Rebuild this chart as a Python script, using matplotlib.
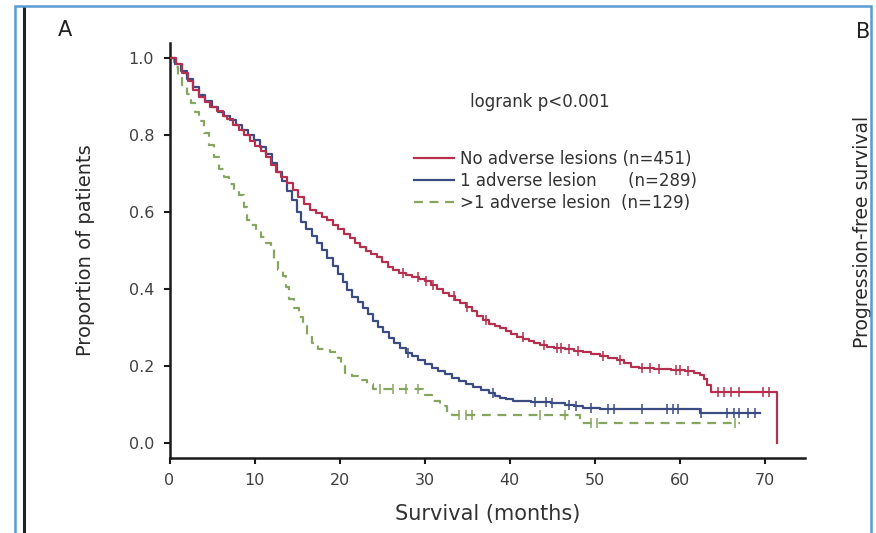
import numpy as np
import matplotlib
matplotlib.use('Agg')
import matplotlib.pyplot as plt
from matplotlib.patches import Rectangle
from matplotlib.lines import Line2D

# Kaplan-Meier step points (months, proportion surviving)
red_t = [0, 0.8, 1.5, 2.2, 2.8, 3.5, 4.2, 4.8, 5.6, 6.3, 6.8, 7.5, 8.2, 8.8, 9.5, 10.1,
         10.7, 11.3, 11.9, 12.5, 13.1, 13.8, 14.5, 15.1, 15.8, 16.5, 17.2, 17.9, 18.5,
         19.2, 19.8, 20.5, 21.2, 21.8, 22.4, 23.1, 23.7, 24.4, 25.0, 25.7, 26.3, 27.0,
         27.8, 28.5, 29.3, 30.0, 30.7, 31.4, 32.2, 32.9, 33.6, 34.2, 34.9, 35.5, 36.2,
         36.9, 37.6, 38.3, 38.9, 39.6, 40.2, 40.9, 41.6, 42.2, 42.8, 43.6, 44.4, 45.2,
         46.5, 47.6, 48.6, 49.6, 50.6, 51.6, 52.6, 53.4, 54.2, 55.2, 57.0, 59.0, 60.6,
         61.6, 62.3, 62.8, 63.2, 63.6, 71.4]
red_s = [1.0, 0.985, 0.962, 0.94, 0.918, 0.9, 0.885, 0.873, 0.862, 0.85, 0.842, 0.826,
         0.812, 0.8, 0.785, 0.772, 0.758, 0.742, 0.722, 0.703, 0.69, 0.675, 0.657, 0.64,
         0.622, 0.605, 0.597, 0.587, 0.579, 0.565, 0.556, 0.543, 0.532, 0.52, 0.509,
         0.498, 0.49, 0.482, 0.47, 0.458, 0.449, 0.442, 0.436, 0.43, 0.425, 0.42, 0.41,
         0.40, 0.39, 0.381, 0.372, 0.364, 0.352, 0.342, 0.331, 0.32, 0.31, 0.304, 0.298,
         0.29, 0.283, 0.276, 0.27, 0.264, 0.259, 0.254, 0.249, 0.246, 0.243, 0.239,
         0.236, 0.231, 0.225, 0.22, 0.215, 0.207, 0.198, 0.195, 0.193, 0.19, 0.187,
         0.183, 0.176, 0.165, 0.15, 0.132, 0.0]
red_cens = [27.5, 29.2, 30.2, 31.0, 33.5, 35.0, 37.2, 41.5, 44.0, 45.5, 46.0, 47.0, 48.0,
            51.0, 53.0, 55.5, 56.5, 57.5, 59.5, 60.0, 61.0, 64.5, 65.2, 66.0, 67.0, 69.8,
            70.5]

blue_t = [0, 0.7, 1.4, 2.1, 2.8, 3.5, 4.2, 5.0, 5.7, 6.4, 7.1, 7.8, 8.5, 9.2, 9.9, 10.6,
          11.3, 12.0, 12.6, 13.2, 13.8, 14.4, 15.0, 15.5, 16.1, 16.7, 17.3, 17.9, 18.5,
          19.2, 19.8, 20.4, 20.9, 21.5, 22.1, 22.7, 23.3, 23.9, 24.5, 25.1, 25.8, 26.4,
          27.1, 27.8, 28.5, 29.2, 30.0, 30.8, 31.6, 32.4, 33.2, 34.0, 34.9, 35.7, 36.6,
          37.5, 38.3, 38.9, 39.6, 40.4, 42.5, 44.8, 46.5, 47.5, 48.6, 50.6, 62.4, 69.4]
blue_s = [1.0, 0.985, 0.965, 0.945, 0.925, 0.905, 0.888, 0.872, 0.86, 0.85, 0.838, 0.825,
          0.812, 0.8, 0.787, 0.77, 0.75, 0.728, 0.705, 0.68, 0.655, 0.63, 0.6, 0.575,
          0.556, 0.538, 0.52, 0.5, 0.48, 0.46, 0.44, 0.418, 0.398, 0.38, 0.365, 0.35,
          0.335, 0.316, 0.3, 0.287, 0.272, 0.26, 0.248, 0.234, 0.225, 0.215, 0.205, 0.196,
          0.187, 0.178, 0.168, 0.16, 0.152, 0.145, 0.137, 0.13, 0.123, 0.118, 0.113, 0.108,
          0.106, 0.103, 0.099, 0.095, 0.091, 0.087, 0.079, 0.079]
blue_cens = [28.0, 38.0, 43.0, 44.3, 45.0, 47.0, 47.8, 49.5, 51.5, 52.3, 55.5, 58.5, 59.2,
             59.8, 62.5, 65.5, 66.3, 67.0, 68.0, 68.8]

green_t = [0, 0.5, 1.0, 1.5, 2.0, 2.5, 3.0, 3.5, 4.0, 4.6, 5.2, 5.8, 6.4, 7.0, 7.6, 8.2,
           8.7, 9.1, 9.6, 10.2, 10.7, 11.3, 11.9, 12.3, 12.8, 13.3, 13.7, 14.1, 14.6, 15.2,
           15.7, 16.2, 16.8, 17.5, 18.9, 19.8, 20.2, 20.6, 21.5, 22.4, 23.2, 23.9, 29.8,
           30.8, 31.8, 32.6, 33.2, 48.2, 67.1]
green_s = [1.0, 0.977, 0.953, 0.93, 0.907, 0.884, 0.86, 0.837, 0.806, 0.775, 0.744, 0.713,
           0.69, 0.674, 0.659, 0.643, 0.612, 0.58, 0.566, 0.55, 0.535, 0.519, 0.504, 0.473,
           0.45, 0.435, 0.404, 0.373, 0.35, 0.327, 0.303, 0.28, 0.26, 0.245, 0.237, 0.222,
           0.199, 0.183, 0.175, 0.164, 0.152, 0.14, 0.124, 0.11, 0.096, 0.083, 0.073, 0.053,
           0.053]
green_cens = [24.8, 26.3, 27.8, 29.2, 34.0, 34.8, 35.6, 43.5, 46.5, 49.5, 50.2, 66.5]

labels = ['No adverse lesions (n=451)', '1 adverse lesion      (n=289)',
          '>1 adverse lesion  (n=129)']
colors = ['#b3304e', '#3b4c82', '#86a55e']

W, H = 876, 533
fig = plt.figure(figsize=(W / 100, H / 100), dpi=100)
fig.patch.set_facecolor('white')

# axes box in pixels: x 169.5..805, y 43..458
ax = fig.add_axes([169.5 / W, 1 - 458 / H, (805 - 169.5) / W, (458 - 43) / H])
ax.set_xlim(0, 74.7)
ax.set_ylim(-0.039, 1.039)

series = [(red_t, red_s, red_cens), (blue_t, blue_s, blue_cens),
          (green_t, green_s, green_cens)]
for i, (t, s, cens) in enumerate(series):
    t = np.array(t)
    s = np.array(s)
    ls = '-' if i < 2 else (0, (4, 3))
    ax.step(t, s, where='post', color=colors[i], lw=1.6, linestyle=ls, zorder=3 - i)
    idx = np.searchsorted(t, cens, side='right') - 1
    ax.plot(cens, s[idx], linestyle='none', marker='|', ms=7, mew=1.1,
            color=colors[i], zorder=3 - i)

for side in ['top', 'right']:
    ax.spines[side].set_visible(False)
for side in ['left', 'bottom']:
    ax.spines[side].set_linewidth(1.8)
    ax.spines[side].set_color('#1a1a1a')

ax.set_xticks([0, 10, 20, 30, 40, 50, 60, 70])
ax.set_yticks([0.0, 0.2, 0.4, 0.6, 0.8, 1.0])
ax.set_yticklabels(['0.0', '0.2', '0.4', '0.6', '0.8', '1.0'])
ax.tick_params(direction='out', length=4, width=1.5, color='#1a1a1a',
               labelsize=11.5, labelcolor='#404040', pad=7)

ax.set_xlabel('Survival (months)', fontsize=15, color='#333333', labelpad=11)
ax.set_ylabel('Proportion of patients', fontsize=14, color='#2a2a2a', labelpad=24)

ax.text(470, H - 102, 'logrank p<0.001', transform=None, fontsize=12,
        color='#333333', va='center', ha='left')

handles = [Line2D([], [], color=colors[0], lw=1.6),
           Line2D([], [], color=colors[1], lw=1.6),
           Line2D([], [], color=colors[2], lw=1.6, linestyle=(0, (4, 3)))]
ax.legend(handles, labels, loc='upper left', bbox_to_anchor=(414 / W, 1 - 150 / H),
          bbox_transform=fig.transFigure, frameon=False, fontsize=12,
          handlelength=2.4, handletextpad=0.35, labelspacing=0.25, borderpad=0,
          borderaxespad=0, labelcolor='#333333')

# panel letters and the neighbouring panel's label
fig.text(65 / W, 1 - 30 / H, 'A', fontsize=15, ha='center', va='center', color='#222222')
fig.text(863 / W, 1 - 32 / H, 'B', fontsize=15, ha='center', va='center', color='#222222')
fig.text(863 / W, 1 - 232 / H, 'Progression-free survival', fontsize=13.5, rotation=90,
         ha='center', va='center', color='#2a2a2a')

# frame around the panel
fig.add_artist(Rectangle((15 / W, -0.05), (871 - 15) / W, 1.05 - 6 / H,
                         transform=fig.transFigure, fill=False, edgecolor='#5b9bd5',
                         lw=1.8, zorder=10))
fig.add_artist(Line2D([23.5 / W, 23.5 / W], [0, 1 - 8 / H], transform=fig.transFigure,
                      color='#222222', lw=2.2))

fig.savefig('out.png', dpi=100)
